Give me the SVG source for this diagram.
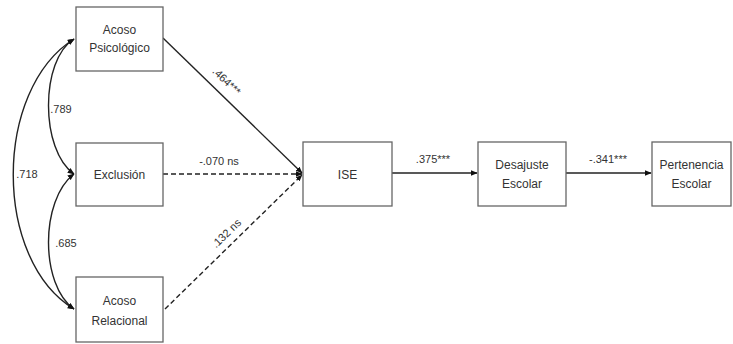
<svg xmlns="http://www.w3.org/2000/svg" width="733" height="344" viewBox="0 0 733 344">
<style>
.box{fill:#fff;stroke:#666;stroke-width:1.3}
.t{font-family:"Liberation Sans",Arial,sans-serif;font-size:12px;fill:#333;text-anchor:middle}
.l{font-family:"Liberation Sans",Arial,sans-serif;font-size:11px;fill:#333;text-anchor:middle}
.c{fill:none;stroke:#222;stroke-width:1.4}
.d{stroke-dasharray:5 3}
</style>
<defs>
<marker id="ah" viewBox="0 0 10 10" refX="9" refY="5" markerWidth="7" markerHeight="7" markerUnits="userSpaceOnUse" orient="auto-start-reverse">
<path d="M0,1 L10,5 L0,9 z" fill="#111"/>
</marker>
</defs>
<rect width="733" height="344" fill="#fff"/>
<g id="connectors">
<path class="c" d="M74,39 C40,60 40,150 74,174" marker-start="url(#ah)" marker-end="url(#ah)"/>
<path class="c" d="M74,174 C40,200 40,285 74,309" marker-start="url(#ah)" marker-end="url(#ah)"/>
<path class="c" d="M74,39 C-7,90 -7,260 74,309" marker-start="url(#ah)" marker-end="url(#ah)"/>
<line class="c" x1="163" y1="38" x2="302" y2="173" marker-end="url(#ah)"/>
<line class="c d" x1="163" y1="174" x2="302" y2="174" marker-end="url(#ah)"/>
<line class="c d" x1="165" y1="309" x2="302" y2="175" marker-end="url(#ah)"/>
<line class="c" x1="392" y1="173" x2="477" y2="173" marker-end="url(#ah)"/>
<line class="c" x1="566" y1="173" x2="651" y2="173" marker-end="url(#ah)"/>
<text class="l" x="61" y="113">.789</text>
<text class="l" x="66" y="247">.685</text>
<text class="l" x="27" y="178">.718</text>
<text class="l" x="219" y="165">-.070 ns</text>
<text class="l" x="433" y="163">.375***</text>
<text class="l" x="608" y="163">-.341***</text>
<text class="l" transform="translate(224,84) rotate(44)">.464***</text>
<text class="l" transform="translate(229,236) rotate(-44)">.132 ns</text>
</g>
<g id="acoso-psicologico">
<rect class="box" x="76" y="7" width="87" height="64"/>
<text class="t" x="119.5" y="34">Acoso</text>
<text class="t" x="119.5" y="52">Psicológico</text>
</g>
<g id="exclusion">
<rect class="box" x="76" y="143" width="87" height="63"/>
<text class="t" x="119.5" y="179">Exclusión</text>
</g>
<g id="acoso-relacional">
<rect class="box" x="76" y="277" width="87" height="65"/>
<text class="t" x="119.5" y="305">Acoso</text>
<text class="t" x="119.5" y="325">Relacional</text>
</g>
<g id="ise">
<rect class="box" x="303" y="142" width="89" height="64"/>
<text class="t" x="347.5" y="179">ISE</text>
</g>
<g id="desajuste-escolar">
<rect class="box" x="478" y="142" width="88" height="64"/>
<text class="t" x="522" y="169">Desajuste</text>
<text class="t" x="522" y="188">Escolar</text>
</g>
<g id="pertenencia-escolar">
<rect class="box" x="652" y="142" width="79" height="64"/>
<text class="t" x="691.5" y="169">Pertenencia</text>
<text class="t" x="691.5" y="188">Escolar</text>
</g>
</svg>
